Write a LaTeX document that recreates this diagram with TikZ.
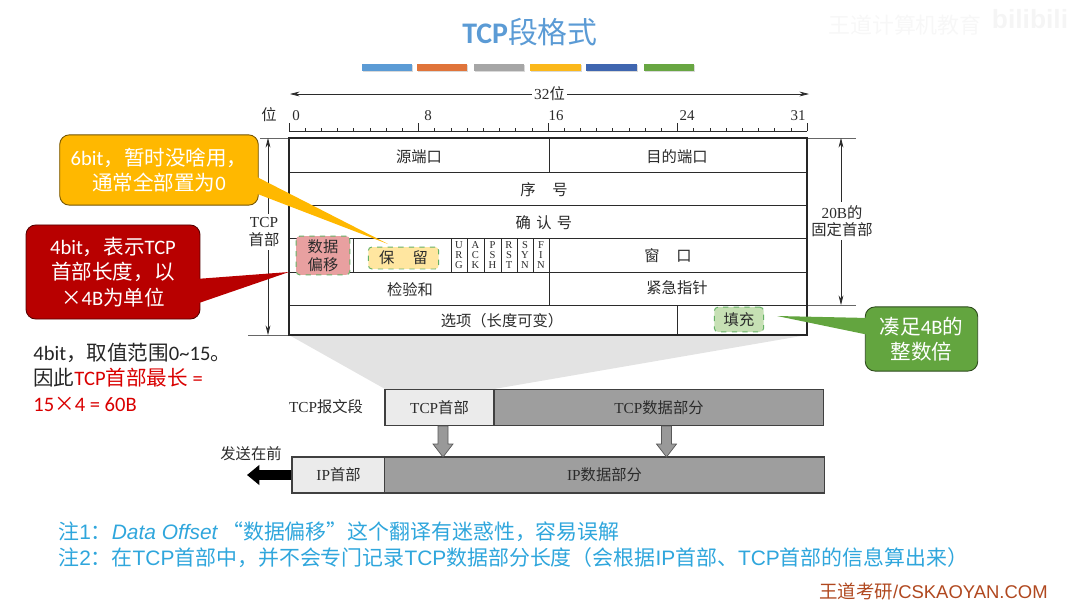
\documentclass[tikz,border=0pt]{standalone}
\usepackage{fontspec}
\setmainfont{Noto Sans CJK SC}
\newfontfamily\serl{Liberation Serif}
\newfontfamily\sanl{Carlito}
\newfontfamily\arl{Liberation Sans}
\usetikzlibrary{arrows.meta, shadows}
\definecolor{titleblue}{HTML}{5B9BD5}
\definecolor{notecyan}{HTML}{2FA6DC}
\definecolor{wdbrown}{HTML}{B0481F}
\definecolor{callorange}{HTML}{FFB800}
\definecolor{callred}{HTML}{B80000}
\definecolor{callgreen}{HTML}{63A53F}
\definecolor{hdrtext}{HTML}{2B2B2B}
\definecolor{barorange}{HTML}{E0743A}
\definecolor{baryellow}{HTML}{FBB81A}
\definecolor{barblue}{HTML}{3F66B0}
\definecolor{bargreen}{HTML}{68A642}
\definecolor{hlpink}{HTML}{E8A0A0}
\definecolor{hlyellow}{HTML}{FFE6A0}
\definecolor{hlgreen}{HTML}{C6E0B4}
\tikzset{
  tbl/.style={draw=hdrtext, line width=0.55pt},
  tblouter/.style={draw=black!85, line width=0.85pt},
  dimline/.style={draw=hdrtext, line width=0.4pt, {Stealth[length=5.5pt,width=2.8pt]}-{Stealth[length=5.5pt,width=2.8pt]}},
  extline/.style={draw=black!60, line width=0.5pt},
  lbl/.style={text=hdrtext, font=\fontsize{8.7}{10}\selectfont, align=center, inner sep=0pt},
  flagl/.style={text=hdrtext, font=\serl\fontsize{6}{5.9}\selectfont, align=center, inner sep=0pt},
  call/.style={text=white, font=\fontsize{11.7}{14.6}\selectfont, align=center, rounded corners=5.5pt, draw=black!55!#1, fill=#1, line width=0.5pt},
  hilite/.style={draw=green!50!black!60, dashed, line width=0.55pt, rounded corners=2pt, fill=#1},
  bar/.style={fill=#1, drop shadow={shadow xshift=0.3pt, shadow yshift=-0.5pt, opacity=0.3}},
  seg/.style={draw=black!75, line width=0.75pt, fill=#1},
  dnarrow/.style={draw=black!65, line width=0.4pt, fill=black!40},
  remark/.style={anchor=west, inner sep=0pt, font=\fontsize{11.7}{14}\selectfont},
  notel/.style={anchor=west, inner sep=0pt, text=notecyan, font=\fontsize{11.9}{14}\selectfont},
}
\begin{document}
\begin{tikzpicture}[x=0.2mm,y=-0.2mm]
  \useasboundingbox (0,0) rectangle (1079,605);
  % watermark
  \node[text=black!3, font=\fontsize{12.5}{14}\selectfont] (wmark) at (905,25) {王道计算机教育};
  \node[text=black!4, font=\arl\bfseries\fontsize{15}{16}\selectfont] (wbili) at (1030,19) {bilibili};
  % title and bars
  \node[text=titleblue, font=\fontsize{17}{20}\selectfont] (title) at (530,32) {{\sanl\bfseries TCP}段格式};
  \fill[bar=titleblue] (362,64) rectangle (412,71);
  \fill[bar=barorange] (417,64) rectangle (467,71);
  \fill[bar=black!35] (474,64) rectangle (524,71);
  \fill[bar=baryellow] (530,64) rectangle (581,71);
  \fill[bar=barblue] (586,64) rectangle (637,71);
  \fill[bar=bargreen] (644,64) rectangle (694,71);
  % ruler
  \coordinate (bitL) at (290,94);
  \coordinate (bitR) at (809,94);
  \draw[dimline] (bitL) -- (bitR) node[midway, fill=white, lbl, inner xsep=1.5pt] (bits) {{\serl 32}位};
  \node[lbl] (wei) at (269,115) {位};
  \draw[tbl, line width=0.4pt] (289,131) -- (807,131);
  \foreach \i in {0,...,32}
    \draw[tbl, line width=0.4pt] ({289+16.19*\i},131) -- ++(0,-3.5);
  \foreach \i in {0,8,...,32}
    \draw[tbl, line width=0.4pt] ({289+16.19*\i},131) -- ++(0,-8);
  \foreach \p/\t in {296/0,428/8,556/16,687/24,798/31}
    \node[lbl, font=\serl\fontsize{8.5}{10}\selectfont] (tick\t) at (\p,116) {\t};
  % trapezoid down to the segment
  \fill[black!11] (289,335) -- (807,335) -- (494,389) -- (385,389) -- cycle;
  % header dimensions
  \coordinate (hdrT) at (268,138);
  \coordinate (hdrB) at (268,335);
  \draw[extline] (248,335) -- (289,335);
  \draw[extline] (260,138) -- (289,138);
  \draw[dimline] (hdrT) -- (hdrB);
  \node[lbl, fill=white, inner ysep=2pt] (hdrlbl) at (264,232) {{\serl TCP}\\首部};
  \coordinate (fixT) at (841,138);
  \coordinate (fixB) at (841,305);
  \draw[extline] (807,138) -- (856,138);
  \draw[extline] (807,305) -- (856,305);
  \draw[dimline] (fixT) -- (fixB);
  \node[lbl, fill=white, inner ysep=2pt] (fixlbl) at (842,221) {{\serl 20B}的\\固定首部};
  % rows of the header
  \fill[white] (289,138) rectangle (807,335);
  \foreach \y in {172,205,238,272,305}
    \draw[tbl] (289,\y) -- (807,\y);
  \draw[tbl] (549,138) -- (549,172);
  \draw[tbl] (549,238) -- (549,305);
  \draw[tbl] (677,305) -- (677,335);
  \foreach \x in {353,451,467,484,501,517,533}
    \draw[tbl] (\x,238) -- (\x,272);
  \draw[tblouter] (289,138) rectangle (807,335);
  \node[lbl] (srcport) at (419,157) {源端口};
  \node[lbl] (dstport) at (677,157) {目的端口};
  \node[lbl] (seqno) at (544,190) {序\hspace{1.1em}号};
  \node[lbl] (ackno) at (544,223) {确\hspace{0.35em}认\hspace{0.35em}号};
  \node[lbl] (window) at (668,256) {窗\hspace{1.1em}口};
  \node[lbl] (chksum) at (410,290) {检验和};
  \node[lbl] (urgptr) at (677,288) {紧急指针};
  \node[lbl] (options) at (502,321) {选项（长度可变）};
  \foreach \x/\a/\b/\c in {459/U/R/G,475.5/A/C/K,492.5/P/S/H,509/R/S/T,525/S/Y/N,541/F/I/N}
    \node[flagl] (flag\a\b) at (\x,255) {\a\\\b\\\c};
  % dashed highlights
  \node[lbl, hilite=hlpink, minimum width=30.5pt, minimum height=22pt] (offset) at (323,255.5) {数据\\偏移};
  \node[lbl, hilite=hlyellow, minimum width=40pt, minimum height=12.5pt] (resv) at (403.5,258) {保\hspace{1.2em}留};
  \node[lbl, hilite=hlgreen, minimum width=28pt, minimum height=14pt] (pad) at (739,319.5) {填充};
  % callouts
  \node[call=callorange, minimum width=113pt, minimum height=40pt] (cresv) at (159,170) {{\sanl 6bit}，暂时没啥用，\\通常全部置为{\sanl 0}};
  \fill[callorange] (255,176) -- (388,244) -- (255,193) -- cycle;
  \node[call=callred, minimum width=99pt, minimum height=53.5pt] (coffset) at (113,272) {{\sanl 4bit}，表示{\sanl TCP}\\首部长度，以\\×{\sanl 4B}为单位};
  \fill[callred] (196,279) -- (289,272) -- (196,304) -- cycle;
  \node[call=callgreen, minimum width=64pt, minimum height=36.5pt] (cpad) at (921.5,339) {凑足{\sanl 4B}的\\整数倍};
  \fill[callgreen] (869,318) -- (777,316) -- (869,335) -- cycle;
  % left remark
  \node[remark, text=black!85] (rem1) at (33,353) {{\sanl 4bit}，取值范围{\sanl 0\textasciitilde15}。};
  \node[remark, text=black!85] (rem2) at (33,378) {因此\textcolor{red!85!black}{{\sanl TCP}首部最长 {\sanl =}}};
  \node[remark, text=red!85!black] (rem3) at (33,404) {{\sanl 15}×{\sanl 4 = 60B}};
  % segment and datagram
  \node[seg=black!8, lbl, minimum width=62pt, minimum height=20.5pt] (tcphdr) at (439.5,407.5) {{\serl TCP}首部};
  \node[seg=black!38, lbl, minimum width=187.5pt, minimum height=20.5pt] (tcpdata) at (659,407.5) {{\serl TCP}数据部分};
  \node[lbl] (seglbl) at (326,407) {{\serl TCP}报文段};
  \node[seg=black!8, lbl, minimum width=53pt, minimum height=20.5pt] (iphdr) at (338.5,475) {{\serl IP}首部};
  \node[seg=black!38, lbl, minimum width=250.5pt, minimum height=20.5pt] (ipdata) at (604.5,475) {{\serl IP}数据部分};
  \foreach \x in {443,666.5}
    \draw[dnarrow] ({\x-5},426) -- ({\x+5},426) -- ({\x+5},444) -- ({\x+10},444) -- (\x,457) -- ({\x-10},444) -- ({\x-5},444) -- cycle;
  \node[lbl] (sendlbl) at (251,454) {发送在前};
  \coordinate (sendtip) at (247,475);
  \draw[line width=5.7pt, -{Triangle[length=7pt,width=11pt]}] (iphdr.west) -- (sendtip);
  % notes
  \node[notel] (note1) at (58,532) {注{\arl 1}：{\arl\itshape Data Offset} “数据偏移”这个翻译有迷惑性，容易误解};
  \node[notel] (note2) at (58,557.5) {注{\arl 2}：在{\arl TCP}首部中，并不会专门记录{\arl TCP}数据部分长度（会根据{\arl IP}首部、{\arl TCP}首部的信息算出来）};
  \node[anchor=east, inner sep=0pt, text=wdbrown, font=\fontsize{10.5}{12}\selectfont] (brand) at (1048,591) {王道考研{\arl /CSKAOYAN.COM}};
\end{tikzpicture}
\end{document}
